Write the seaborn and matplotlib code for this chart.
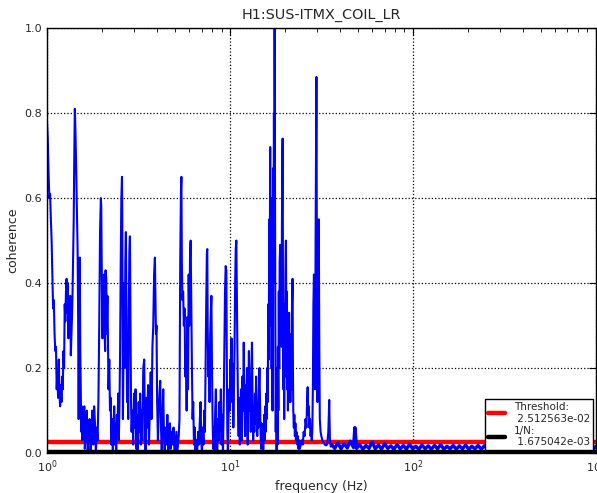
import pandas as pd
import seaborn as sns
import matplotlib.pyplot as plt

# ------------------------------- chart data -----------------------------------
title = "H1:SUS-ITMX_COIL_LR"
threshold = 2.512563e-02
inv_n = 1.675042e-03
freq_range = [1.0, 1000.0]

# 1 - 1.85 Hz
freq_a = [1.00, 1.01, 1.02, 1.03, 1.04, 1.05, 1.06, 1.07, 1.08, 1.09,
          1.10, 1.11, 1.12, 1.13, 1.14, 1.15, 1.16, 1.17, 1.18, 1.19,
          1.20, 1.21, 1.22, 1.23, 1.24, 1.25, 1.26, 1.27, 1.28, 1.29,
          1.30, 1.31, 1.32, 1.33, 1.34, 1.35, 1.37, 1.38, 1.40, 1.41,
          1.42, 1.43, 1.44, 1.46, 1.47, 1.48, 1.49, 1.50, 1.51, 1.52,
          1.53, 1.54, 1.55, 1.56, 1.58, 1.60, 1.61, 1.63, 1.65, 1.67,
          1.69, 1.71, 1.73, 1.75, 1.77, 1.79, 1.81, 1.83]
coh_a = [0.78, 0.74, 0.66, 0.60, 0.61, 0.55, 0.50, 0.42, 0.34, 0.36,
         0.28, 0.24, 0.25, 0.15, 0.19, 0.13, 0.22, 0.14, 0.11, 0.16,
         0.12, 0.18, 0.15, 0.24, 0.20, 0.35, 0.31, 0.38, 0.41, 0.33,
         0.40, 0.27, 0.36, 0.31, 0.37, 0.23, 0.32, 0.38, 0.55, 0.70,
         0.81, 0.76, 0.70, 0.55, 0.48, 0.32, 0.08, 0.30, 0.46, 0.25,
         0.14, 0.05, 0.11, 0.03, 0.08, 0.11, 0.01, 0.05, 0.10, 0.005,
         0.06, 0.08, 0.00, 0.04, 0.10, 0.02, 0.11, 0.07]

# 1.85 - 3 Hz
freq_b = [1.85, 1.87, 1.89, 1.91, 1.93, 1.95, 1.97, 1.98, 2.00, 2.01,
          2.03, 2.05, 2.06, 2.08, 2.09, 2.11, 2.12, 2.14, 2.15, 2.17,
          2.19, 2.21, 2.23, 2.25, 2.27, 2.29, 2.31, 2.33, 2.35, 2.37,
          2.39, 2.41, 2.43, 2.45, 2.47, 2.49, 2.51, 2.53, 2.55, 2.57,
          2.58, 2.60, 2.62, 2.64, 2.66, 2.68, 2.70, 2.72, 2.74, 2.76,
          2.78, 2.80, 2.82, 2.84, 2.86, 2.88, 2.90, 2.93, 2.96, 2.99]
coh_b = [0.00, 0.06, 0.03, 0.12, 0.30, 0.52, 0.60, 0.58, 0.35, 0.27,
         0.40, 0.42, 0.30, 0.24, 0.43, 0.41, 0.28, 0.37, 0.30, 0.15,
         0.22, 0.10, 0.13, 0.02, 0.08, 0.00, 0.06, 0.11, 0.02, 0.07,
         0.00, 0.09, 0.05, 0.14, 0.03, 0.11, 0.24, 0.45, 0.60, 0.65,
         0.55, 0.08, 0.25, 0.40, 0.20, 0.45, 0.52, 0.30, 0.12, 0.22,
         0.08, 0.33, 0.47, 0.51, 0.30, 0.12, 0.05, 0.10, 0.02, 0.14]

# 3 - 5.3 Hz
freq_c = [3.02, 3.05, 3.08, 3.11, 3.14, 3.17, 3.20, 3.23, 3.26, 3.29,
          3.32, 3.36, 3.40, 3.43, 3.46, 3.50, 3.53, 3.57, 3.61, 3.65,
          3.69, 3.73, 3.77, 3.81, 3.85, 3.89, 3.92, 3.94, 3.97, 4.00,
          4.04, 4.08, 4.12, 4.16, 4.20, 4.24, 4.28, 4.32, 4.36, 4.40,
          4.45, 4.50, 4.55, 4.60, 4.65, 4.70, 4.75, 4.80, 4.86, 4.92,
          4.98, 5.05, 5.10, 5.15, 5.20, 5.25]
coh_c = [0.06, 0.15, 0.01, 0.09, 0.00, 0.12, 0.05, 0.14, 0.02, 0.10,
         0.03, 0.20, 0.22, 0.06, 0.00, 0.13, 0.06, 0.16, 0.02, 0.11,
         0.19, 0.08, 0.25, 0.30, 0.42, 0.46, 0.36, 0.28, 0.30, 0.12,
         0.03, 0.10, 0.14, 0.17, 0.06, 0.00, 0.08, 0.15, 0.04, 0.00,
         0.06, 0.02, 0.09, 0.00, 0.04, 0.07, 0.01, 0.05, 0.02, 0.06,
         0.00, 0.03, 0.05, 0.00, 0.02, 0.04]

# 5.3 - 8 Hz
freq_d = [5.30, 5.35, 5.40, 5.43, 5.46, 5.50, 5.55, 5.60, 5.65, 5.70,
          5.75, 5.80, 5.85, 5.90, 5.95, 6.00, 6.05, 6.10, 6.15, 6.20,
          6.25, 6.30, 6.36, 6.42, 6.48, 6.55, 6.62, 6.70, 6.78, 6.85,
          6.91, 6.97, 7.03, 7.10, 7.17, 7.24, 7.30, 7.36, 7.42, 7.48,
          7.52, 7.56, 7.62, 7.68, 7.74, 7.80, 7.86, 7.92, 7.98, 8.04]
coh_d = [0.08, 0.45, 0.62, 0.65, 0.45, 0.36, 0.38, 0.30, 0.34, 0.18,
         0.25, 0.10, 0.32, 0.15, 0.42, 0.30, 0.46, 0.50, 0.35, 0.20,
         0.08, 0.12, 0.02, 0.06, 0.00, 0.03, 0.00, 0.05, 0.02, 0.08,
         0.12, 0.03, 0.00, 0.06, 0.02, 0.10, 0.05, 0.20, 0.35, 0.47,
         0.48, 0.30, 0.18, 0.25, 0.12, 0.28, 0.33, 0.37, 0.20, 0.08]

# 8 - 11.4 Hz
freq_e = [8.10, 8.17, 8.24, 8.31, 8.38, 8.45, 8.52, 8.60, 8.68, 8.76,
          8.84, 8.92, 9.00, 9.08, 9.16, 9.24, 9.32, 9.40, 9.48, 9.56,
          9.62, 9.68, 9.75, 9.82, 9.90, 9.97, 10.05, 10.12, 10.20, 10.28,
          10.36, 10.44, 10.52, 10.60, 10.68, 10.76, 10.84, 10.92, 11.00, 11.08,
          11.16, 11.24, 11.32, 11.40]
coh_e = [0.01, 0.06, 0.00, 0.10, 0.15, 0.05, 0.00, 0.08, 0.03, 0.12,
         0.05, 0.15, 0.02, 0.09, 0.00, 0.10, 0.25, 0.38, 0.44, 0.43,
         0.20, 0.05, 0.00, 0.08, 0.15, 0.10, 0.22, 0.18, 0.27, 0.12,
         0.21, 0.06, 0.15, 0.25, 0.40, 0.48, 0.50, 0.35, 0.22, 0.10,
         0.04, 0.13, 0.02, 0.07]

# 11.5 - 18.2 Hz
freq_f = [11.50, 11.60, 11.70, 11.80, 11.90, 12.00, 12.10, 12.20, 12.30, 12.40,
          12.50, 12.60, 12.70, 12.80, 12.90, 13.00, 13.10, 13.20, 13.30, 13.40,
          13.50, 13.60, 13.70, 13.80, 13.90, 14.00, 14.10, 14.20, 14.30, 14.40,
          14.50, 14.60, 14.70, 14.80, 14.90, 15.00, 15.10, 15.20, 15.30, 15.40,
          15.50, 15.60, 15.70, 15.80, 15.90, 16.00, 16.10, 16.20, 16.30, 16.40,
          16.50, 16.60, 16.70, 16.80, 16.90, 17.00, 17.10, 17.20, 17.30, 17.40,
          17.50, 17.55, 17.62, 17.70, 17.80, 17.90, 18.00, 18.10, 18.20]
coh_f = [0.15, 0.03, 0.18, 0.10, 0.26, 0.12, 0.04, 0.16, 0.08, 0.20,
         0.02, 0.14, 0.24, 0.10, 0.17, 0.05, 0.20, 0.26, 0.12, 0.03,
         0.10, 0.05, 0.14, 0.07, 0.18, 0.11, 0.04, 0.12, 0.06, 0.15,
         0.20, 0.13, 0.05, 0.01, 0.07, 0.02, 0.06, 0.00, 0.04, 0.09,
         0.03, 0.11, 0.05, 0.14, 0.08, 0.20, 0.12, 0.35, 0.22, 0.55,
         0.40, 0.72, 0.30, 0.60, 0.20, 0.52, 0.10, 0.67, 0.40, 0.80,
         0.55, 1.00, 0.70, 0.35, 0.05, 0.20, 0.00, 0.15, 0.02]

# 18.3 - 24 Hz
freq_g = [18.30, 18.40, 18.50, 18.60, 18.70, 18.83, 18.95, 19.05, 19.15, 19.25,
          19.35, 19.41, 19.50, 19.60, 19.70, 19.80, 19.90, 20.00, 20.10, 20.23,
          20.35, 20.45, 20.55, 20.65, 20.75, 20.85, 20.95, 21.05, 21.15, 21.25,
          21.40, 21.55, 21.70, 21.85, 22.00, 22.10, 22.20, 22.35, 22.50, 22.65,
          22.80, 22.95, 23.10, 23.30, 23.50, 23.70, 23.90, 24.10]
coh_g = [0.25, 0.10, 0.38, 0.20, 0.45, 0.49, 0.30, 0.48, 0.25, 0.55,
         0.70, 0.74, 0.40, 0.15, 0.35, 0.08, 0.30, 0.18, 0.42, 0.50,
         0.28, 0.38, 0.15, 0.30, 0.10, 0.26, 0.12, 0.33, 0.18, 0.28,
         0.12, 0.25, 0.15, 0.35, 0.41, 0.20, 0.10, 0.06, 0.09, 0.04,
         0.07, 0.03, 0.05, 0.02, 0.04, 0.01, 0.03, 0.01]

# 24 - 36 Hz
freq_h = [24.40, 24.70, 25.00, 25.30, 25.60, 25.90, 26.20, 26.40, 26.60, 26.80,
          27.00, 27.20, 27.40, 27.60, 27.80, 28.00, 28.20, 28.40, 28.60, 28.80,
          29.00, 29.20, 29.40, 29.70, 29.90, 30.10, 30.30, 30.60, 30.80, 31.00,
          31.30, 31.60, 32.00, 32.50, 33.00, 33.50, 34.00, 34.50, 34.90, 35.20,
          35.60]
coh_h = [0.02, 0.03, 0.02, 0.05, 0.04, 0.08, 0.06, 0.12, 0.155, 0.09,
         0.11, 0.06, 0.08, 0.04, 0.06, 0.03, 0.05, 0.15, 0.35, 0.42,
         0.20, 0.15, 0.50, 0.885, 0.40, 0.12, 0.30, 0.55, 0.25, 0.08,
         0.05, 0.04, 0.03, 0.025, 0.02, 0.018, 0.02, 0.05, 0.125, 0.03,
         0.015]

# noise floor, 36 - 1000 Hz
freq_floor = [36.0, 37.4, 38.9, 40.5, 42.1, 43.8, 45.5, 47.4, 48.2, 49.3,
              51.2, 53.3, 55.4, 57.6, 59.9, 62.3, 64.8, 67.4, 70.1, 72.9,
              75.8, 78.8, 82.0, 85.3, 88.7, 92.2, 95.9, 99.8, 103.8, 107.9,
              112.2, 116.7, 121.4, 126.2, 131.3, 136.5, 142.0, 147.7, 153.6, 159.7,
              166.1, 172.7, 179.6, 186.8, 194.3, 202.1, 210.1, 218.5, 227.3, 236.4,
              245.8, 255.6, 265.9, 276.5, 287.6, 299.1, 311.0, 323.5, 336.4, 349.9,
              363.9, 378.4, 393.6, 409.3, 425.7, 442.7, 460.4, 478.8, 498.0, 517.9,
              538.6, 560.2, 582.6, 605.9, 630.1, 655.3, 681.5, 708.8, 737.2, 766.6,
              797.3, 829.2, 862.4, 896.9, 932.7, 970.0, 1000.0]
coh_floor = [0.020, 0.011, 0.024, 0.010, 0.022, 0.012, 0.028, 0.013, 0.060, 0.011,
             0.020, 0.009, 0.018, 0.011, 0.026, 0.010, 0.019, 0.009, 0.022, 0.011,
             0.017, 0.009, 0.020, 0.010, 0.018, 0.009, 0.021, 0.010, 0.016, 0.009,
             0.019, 0.010, 0.017, 0.009, 0.018, 0.010, 0.020, 0.009, 0.016, 0.010,
             0.018, 0.009, 0.017, 0.010, 0.019, 0.009, 0.016, 0.010, 0.018, 0.009,
             0.017, 0.010, 0.020, 0.009, 0.016, 0.010, 0.018, 0.009, 0.017, 0.010,
             0.019, 0.009, 0.016, 0.010, 0.018, 0.009, 0.017, 0.010, 0.020, 0.009,
             0.016, 0.010, 0.018, 0.009, 0.017, 0.010, 0.019, 0.009, 0.016, 0.010,
             0.018, 0.009, 0.017, 0.010, 0.020, 0.009, 0.016]

# --------------------------- build data frames --------------------------------
coherence_df = pd.DataFrame({
    'frequency': freq_a + freq_b + freq_c + freq_d + freq_e + freq_f
    + freq_g + freq_h + freq_floor[:1],
    'coherence': coh_a + coh_b + coh_c + coh_d + coh_e + coh_f
    + coh_g + coh_h + coh_floor[:1],
})
floor_df = pd.DataFrame({'frequency': freq_floor, 'coherence': coh_floor})
threshold_df = pd.DataFrame({'frequency': freq_range,
                             'coherence': [threshold] * 2})
inv_n_df = pd.DataFrame({'frequency': freq_range,
                         'coherence': [inv_n] * 2})

# ------------------------------- plotting -------------------------------------
sns.set_style("white")
plt.rcParams['font.family'] = ['DejaVu Sans']

fig, ax = plt.subplots(figsize=(5.97, 4.93), dpi=100)
fig.subplots_adjust(left=0.0787, right=0.998, top=0.943, bottom=0.081)

sns.lineplot(data=threshold_df, x='frequency', y='coherence', ax=ax,
             color='red', linewidth=3.2, label=f"Threshold:\n {threshold:e}",
             zorder=1)
sns.lineplot(data=coherence_df, x='frequency', y='coherence', ax=ax,
             color='#0000ff', linewidth=1.5, estimator=None, sort=False,
             legend=False, zorder=2)
# the noise floor is sampled far denser in the original, so draw it heavier
sns.lineplot(data=floor_df, x='frequency', y='coherence', ax=ax,
             color='#0000ff', linewidth=2.4, estimator=None, sort=False,
             legend=False, zorder=2)
sns.lineplot(data=inv_n_df, x='frequency', y='coherence', ax=ax,
             color='black', linewidth=3.2, label=f"1/N:\n {inv_n:e}",
             zorder=3)

ax.set_xscale('log')
ax.set_xlim(1, 1000)
ax.set_ylim(0, 1)
ax.set_yticks([0.0, 0.2, 0.4, 0.6, 0.8, 1.0])

ax.grid(True, which='major', color='black', linestyle=':', linewidth=0.9)
ax.tick_params(which='both', direction='in', top=True, right=True,
               labelsize=8, color='black')
ax.tick_params(which='major', length=5)
ax.tick_params(which='minor', length=3)
for spine in ax.spines.values():
    spine.set_color('black')
    spine.set_linewidth(1.0)

ax.set_title(title, fontsize=10.4, pad=7)
ax.set_xlabel('frequency (Hz)', fontsize=9)
ax.set_ylabel('coherence', fontsize=9)

ax.legend(loc='lower right', fontsize=7.5, frameon=True, fancybox=False,
          edgecolor='black', framealpha=1, handlelength=1.7,
          borderaxespad=0.25, labelspacing=0.2, borderpad=0.3,
          handletextpad=0.8)

plt.savefig("out.png", dpi=100)
